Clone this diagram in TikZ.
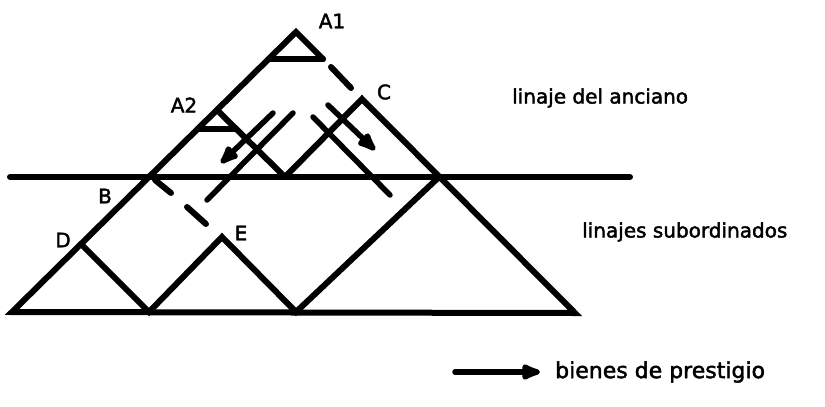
\documentclass[tikz,border=0pt]{standalone}
\usepackage{fontspec}
\setmainfont{DejaVu Sans}
\newfontfamily\lblfont{DejaVu Sans}[FakeBold=2]
\usetikzlibrary{arrows.meta}
\begin{document}
\begin{tikzpicture}[x=1pt,y=-1pt,
  ln/.style={line width=6pt, line cap=round, line join=miter},
  flow/.style={line width=5.5pt, line cap=round},
  flowarrow/.style={flow, -{Latex[length=26pt,width=19pt,round]}},
  lbl/.style={font=\lblfont\fontsize{20}{24}\selectfont, inner sep=0pt},
  leg/.style={font=\lblfont\fontsize{22}{26}\selectfont, inner sep=0pt},
]
\useasboundingbox (0,0) rectangle (825,407);
% main points
\coordinate (A1) at (296,32);
\coordinate (L) at (12,312);
\coordinate (R) at (575,313);
\coordinate (A1l) at (269,59);
\coordinate (A1r) at (323,59);
\coordinate (C) at (362,99);
\coordinate (A2) at (217,110);
\coordinate (A2l) at (198,129);
\coordinate (A2r) at (236,129);
\coordinate (V) at (285,177);
\coordinate (B) at (149,177);
\coordinate (X) at (439,177);
\coordinate (D) at (81,244);
\coordinate (M1) at (149,312);
\coordinate (E) at (222,237);
\coordinate (M2) at (296,312);
\coordinate (H1) at (10,177);
\coordinate (H2) at (630,177);
% dashes
\coordinate (d1a) at (331,67);
\coordinate (d1b) at (351,88);
\coordinate (d2a) at (155,180);
\coordinate (d2b) at (171,193);
\coordinate (d3a) at (187,207);
\coordinate (d3b) at (206,224);
% flow lines
\coordinate (f1a) at (273,113);
\coordinate (f1b) at (221,163);
\coordinate (f2a) at (293,113);
\coordinate (f2b) at (207,200);
\coordinate (f3a) at (328,105);
\coordinate (f3b) at (375,150);
\coordinate (f4a) at (313,117);
\coordinate (f4b) at (390,195);
% legend
\coordinate (g1) at (455,372);
\coordinate (g2) at (540,372);

% structure
\draw[ln] (V) -- (C) -- (R) -- (L) -- (A1) -- (A1r);
\draw[ln] (A1l) -- (A1r);
\draw[ln] (A2l) -- (A2r);
\draw[ln] (A2) -- (V);
\draw[ln] (H1) -- (H2);
\draw[ln] (D) -- (M1) -- (E) -- (M2) -- (X);
% dashed links
\draw[ln] (d1a) -- (d1b);
\draw[ln] (d2a) -- (d2b);
\draw[ln] (d3a) -- (d3b);
% prestige goods flows
\draw[flowarrow] (f1a) -- (f1b);
\draw[flow] (f2a) -- (f2b);
\draw[flowarrow] (f3a) -- (f3b);
\draw[flow] (f4a) -- (f4b);

% labels
\node[lbl] (tA1) at (332,21) {A1};
\node[lbl] (tA2) at (184,105) {A2};
\node[lbl] (tC) at (384,92) {C};
\node[lbl] (tB) at (105,196) {B};
\node[lbl] (tD) at (63,240) {D};
\node[lbl] (tE) at (241,233) {E};
\node[lbl, anchor=west] (t1) at (512,98) {linaje del anciano};
\node[lbl, anchor=west] (t2) at (582,232) {linajes subordinados};
\draw[flowarrow] (g1) -- (g2);
\node[leg, anchor=west] (t3) at (555,372) {bienes de prestigio};
\end{tikzpicture}
\end{document}
